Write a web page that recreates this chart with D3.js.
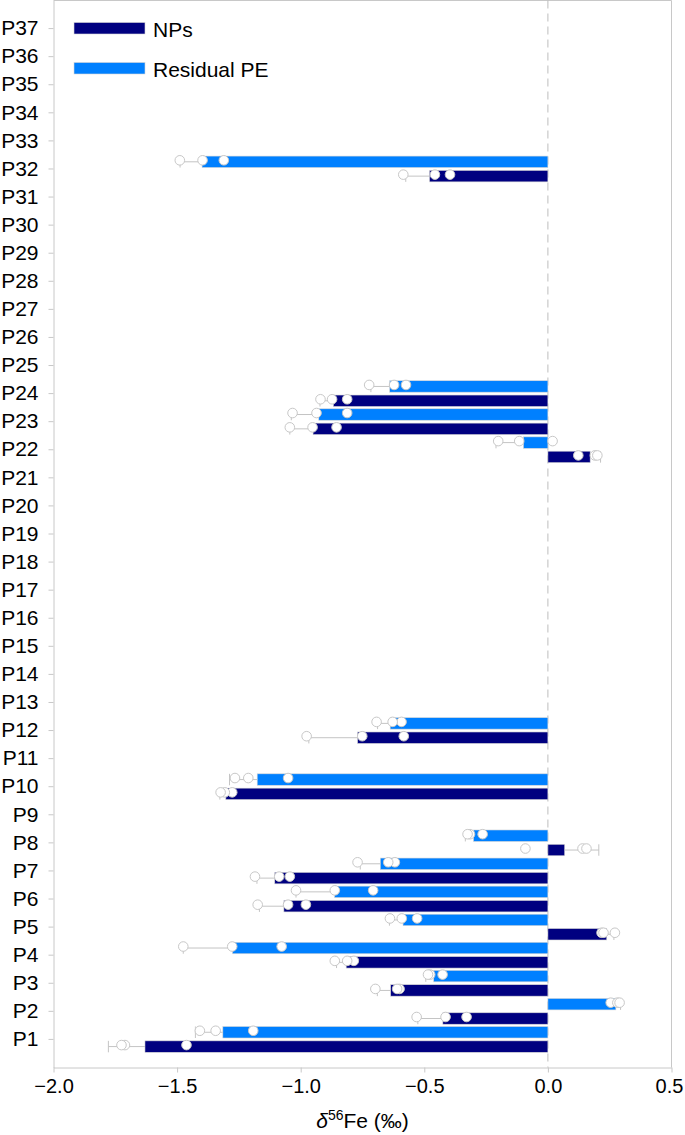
<!DOCTYPE html>
<html>
<head>
<meta charset="utf-8">
<script src="https://cdn.jsdelivr.net/npm/d3@7"></script>
<style>
  html, body { margin: 0; padding: 0; background: #fff; }
  svg { display: block; font-family: "Liberation Sans", Arial, Helvetica, sans-serif; }
</style>
</head>
<body>
<svg id="chart" width="685" height="1135"></svg>
<script>
// ---- data ----
const categories = ["P37","P36","P35","P34","P33","P32","P31","P30","P29","P28","P27","P26","P25","P24","P23","P22","P21","P20","P19","P18","P17","P16","P15","P14","P13","P12","P11","P10","P9","P8","P7","P6","P5","P4","P3","P2","P1"];
const samples = ["P1","P2","P3","P4","P5","P6","P7","P8","P10","P12","P22","P23","P24","P32"];
const seriesNames = ["NPs", "Residual PE"];

const npMean = [-1.630, -0.425, -0.636, -0.816, 0.238, -1.068, -1.105, 0.068, -1.303, -0.770, 0.171, -0.950, -0.868, -0.479];
const npSD   = [0.148, 0.101, 0.054, 0.039, 0.029, 0.099, 0.072, 0.138, 0.024, 0.197, 0.042, 0.094, 0.054, 0.096];
const npPoints = [
  [-1.462, -1.711, -1.725],
  [-0.329, -0.414, -0.531],
  [-0.600, -0.698, -0.610],
  [-0.785, -0.812, -0.862],
  [0.217, 0.271, 0.225],
  [-0.979, -1.051, -1.174],
  [-1.044, -1.087, -1.185],
  [-0.091, 0.140, 0.156],
  [-1.277, -1.307, -1.324],
  [-0.583, -0.751, -0.976],
  [0.123, 0.190, 0.200],
  [-0.855, -0.952, -1.044],
  [-0.812, -0.873, -0.920],
  [-0.457, -0.396, -0.585]
];

const peMean = [-1.315, 0.275, -0.462, -1.276, -0.586, -0.863, -0.678, -0.301, -1.176, -0.638, -0.099, -0.927, -0.640, -1.399];
const peSD   = [0.111, 0.019, 0.032, 0.199, 0.055, 0.156, 0.081, 0.033, 0.112, 0.051, 0.111, 0.111, 0.076, 0.089];
const pePoints = [
  [-1.192, -1.344, -1.408],
  [0.254, 0.281, 0.290],
  [-0.426, -0.476, -0.485],
  [-1.077, -1.277, -1.475],
  [-0.529, -0.591, -0.639],
  [-0.707, -0.862, -1.019],
  [-0.619, -0.646, -0.770],
  [-0.264, -0.315, -0.325],
  [-1.051, -1.212, -1.266],
  [-0.592, -0.628, -0.693],
  [-0.201, -0.116, 0.019],
  [-0.812, -0.936, -1.033],
  [-0.574, -0.622, -0.723],
  [-1.311, -1.397, -1.489]
];

const xTicks = [-2.0, -1.5, -1.0, -0.5, 0.0, 0.5];
const seriesColors = { "NPs": "#000080", "Residual PE": "#0080ff" };

// ---- build rows ----
const rows = [];
samples.forEach((s, i) => {
  rows.push({ cat: s, series: "NPs", mean: npMean[i], sd: npSD[i], pts: npPoints[i] });
  rows.push({ cat: s, series: "Residual PE", mean: peMean[i], sd: peSD[i], pts: pePoints[i] });
});

// ---- layout ----
const svg = d3.select("#chart");
const plotLeft = 53.5, plotRight = 671.5, plotTop = 0.5, plotBottom = 1067.5;
const axisColor = "#c8c8c8";
const fontSize = "21px";

const x = d3.scaleLinear().domain([-2, 0.5]).range([plotLeft, plotRight]);
const y = d3.scaleBand().domain(categories).range([plotTop, plotBottom]).paddingInner(0).paddingOuter(0.5);
const ySub = d3.scaleBand().domain(["Residual PE", "NPs"]).range([0, y.bandwidth()]).paddingInner(0.2).paddingOuter(0.08);

// frame top/right
svg.append("line").attr("x1", plotLeft).attr("x2", plotRight).attr("y1", plotTop).attr("y2", plotTop).attr("stroke", axisColor);
svg.append("line").attr("x1", plotRight).attr("x2", plotRight).attr("y1", plotTop).attr("y2", plotBottom).attr("stroke", axisColor);

// zero dashed line
svg.append("line")
  .attr("x1", x(0)).attr("x2", x(0)).attr("y1", plotTop).attr("y2", plotBottom)
  .attr("stroke", "#bdbdbd").attr("stroke-dasharray", "8,5").attr("stroke-width", 1);

// y axis
const yAxis = svg.append("g").attr("transform", `translate(${plotLeft},0)`)
  .call(d3.axisLeft(y).tickSize(5).tickPadding(10).tickSizeOuter(0));
yAxis.select(".domain").attr("stroke", axisColor);
yAxis.selectAll(".tick line").attr("stroke", axisColor);
yAxis.selectAll(".tick text").attr("fill", "#000").style("font-size", fontSize)
  .style("font-family", "'Liberation Sans', Arial, sans-serif");

// x axis
const xAxis = svg.append("g").attr("transform", `translate(0,${plotBottom})`)
  .call(d3.axisBottom(x).tickValues(xTicks).tickSize(5).tickPadding(6).tickSizeOuter(0)
    .tickFormat(d => d3.format(".1f")(d).replace("-", "\u2212")));
xAxis.select(".domain").attr("stroke", axisColor);
xAxis.selectAll(".tick line").attr("stroke", axisColor);
xAxis.selectAll(".tick text").attr("fill", "#000").style("font-size", "20px")
  .style("font-family", "'Liberation Sans', Arial, sans-serif")
  .attr("dx", d => d === 0.5 ? -2.5 : 0);

// axis title
const title = svg.append("text")
  .attr("x", (plotLeft + plotRight) / 2).attr("y", 1128)
  .attr("text-anchor", "middle").style("font-size", fontSize).attr("fill", "#000");
title.append("tspan").text("\u03b4").style("font-style", "italic");
title.append("tspan").text("56").attr("dy", -8).style("font-size", "14px");
title.append("tspan").text("Fe (\u2030)").attr("dy", 8);

// bars
const g = svg.append("g");
const barY = d => y(d.cat) + ySub(d.series);
const bh = ySub.bandwidth();

g.selectAll("rect.bar").data(rows).join("rect")
  .attr("class", "bar")
  .attr("x", d => Math.min(x(0), x(d.mean)))
  .attr("width", d => Math.abs(x(d.mean) - x(0)))
  .attr("y", barY)
  .attr("height", bh)
  .attr("fill", d => seriesColors[d.series])
  .attr("stroke", "#d6d6d6").attr("stroke-width", 0.6);

// error bars (outward side)
const errEnd = d => d.mean + Math.sign(d.mean) * d.sd;
g.selectAll("line.err").data(rows).join("line")
  .attr("class", "err")
  .attr("x1", d => x(d.mean)).attr("x2", d => x(errEnd(d)))
  .attr("y1", d => barY(d) + bh / 2).attr("y2", d => barY(d) + bh / 2)
  .attr("stroke", "#c4c4c4").attr("stroke-width", 1);
g.selectAll("line.cap").data(rows).join("line")
  .attr("class", "cap")
  .attr("x1", d => x(errEnd(d))).attr("x2", d => x(errEnd(d)))
  .attr("y1", d => barY(d)).attr("y2", d => barY(d) + bh)
  .attr("stroke", "#c4c4c4").attr("stroke-width", 1);

// individual points
const pts = [];
rows.forEach(r => r.pts.forEach(v => pts.push({ row: r, v })));
g.selectAll("circle.pt").data(pts).join("circle")
  .attr("class", "pt")
  .attr("cx", d => x(d.v))
  .attr("cy", d => barY(d.row) + bh / 2 - 1.5)
  .attr("r", 4.8)
  .attr("fill", "#fff")
  .attr("stroke", "#c8c8c8").attr("stroke-width", 1);

// legend
const legend = svg.append("g");
seriesNames.forEach((s, i) => {
  const ly = 22.5 + i * 40;
  legend.append("rect").attr("x", 74).attr("y", ly).attr("width", 71).attr("height", 11.5)
    .attr("fill", seriesColors[s]).attr("stroke", "#d6d6d6").attr("stroke-width", 0.6);
  legend.append("text").attr("x", 153).attr("y", ly + 14).text(s)
    .style("font-size", fontSize).attr("fill", "#000");
});
</script>
</body>
</html>
